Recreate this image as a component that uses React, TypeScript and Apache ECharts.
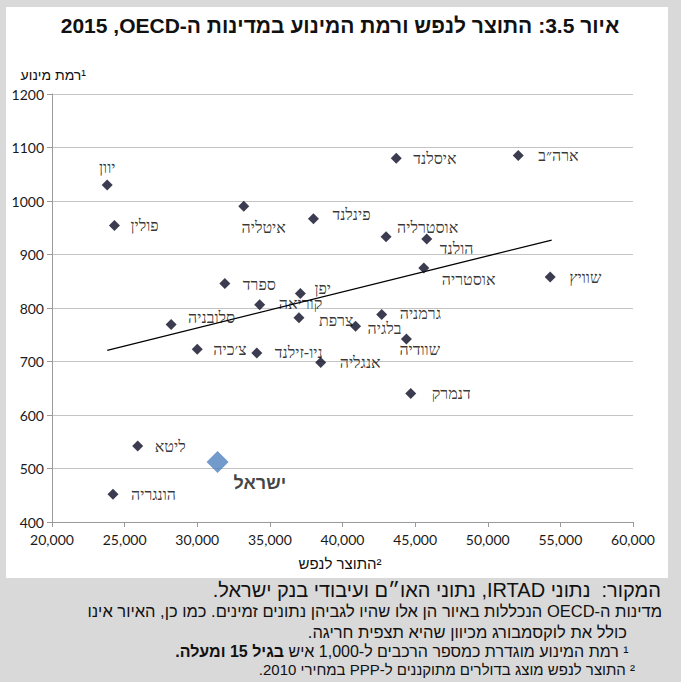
import React, { useEffect, useRef } from 'react';
import * as echarts from 'echarts';

// ---------- data ----------
const countries = [
  'יוון', 'פולין', 'איטליה', 'פינלנד', 'איסלנד', 'ארה״ב', 'אוסטרליה', 'הולנד',
  'אוסטריה', 'שוויץ', 'ספרד', 'יפן', 'קוריאה', 'צרפת', 'סלובניה', 'צ׳כיה',
  'ניו-זילנד', 'אנגליה', 'גרמניה', 'בלגיה', 'שוודיה', 'דנמרק', 'ליטא', 'הונגריה',
];
const gdpPerCapita = [
  23800, 24300, 33200, 38000, 43700, 52100, 43000, 45800,
  45600, 54300, 31900, 37100, 34300, 37000, 28200, 30000,
  34100, 38500, 42700, 40900, 44400, 44700, 25900, 24200,
];
const motorization = [
  1030, 954, 990, 967, 1080, 1085, 933, 929,
  875, 858, 846, 827, 806, 782, 769, 723,
  716, 698, 788, 766, 742, 640, 542, 452,
];
const israelName = 'ישראל';
const israelGdp = [31400];
const israelMotor = [512];
const trendGdp = [23800, 54400];
const trendMotor = [721, 927];
const xTickValues = [20000, 25000, 30000, 35000, 40000, 45000, 50000, 55000, 60000];
const yTickValues = [400, 500, 600, 700, 800, 900, 1000, 1100, 1200];

const RLE = '\u202B';
const PDF = '\u202C';
const LRM = '\u200E';
const RLM = '\u200F';
const rtl = (s: string) => RLE + s + PDF;

const titleText = 'איור 3.5: התוצר לנפש ורמת המינוע במדינות ה-OECD' + RLM + ', 2015';
const yTitle = 'רמת מינוע';
const xTitle = 'התוצר לנפש';
const noteSource = 'המקור:  נתוני IRTAD, נתוני האו״ם ועיבודי בנק ישראל.';
const noteLine2 = 'מדינות ה-OECD הנכללות באיור הן אלו שהיו לגביהן נתונים זמינים. כמו כן, האיור אינו';
const noteLine3 = 'כולל את לוקסמבורג מכיוון שהיא תצפית חריגה.';
const note1Normal = '¹ רמת המינוע מוגדרת כמספר הרכבים ל-1,000 איש ';
const note1Bold = ' בגיל 15 ומעלה.';
const note2 = '² התוצר לנפש מוצג בדולרים מתוקננים ל-PPP במחירי 2010.';

// ---------- label placement (style, px relative to marker) ----------
const labelPlace: Record<string, [number, number, string]> = {
  'יוון': [0, -17, 'center'],
  'פולין': [16, 0, 'left'],
  'איטליה': [20, 21, 'center'],
  'פינלנד': [19, -4, 'left'],
  'איסלנד': [17, 0, 'left'],
  'ארה״ב': [20, 0, 'left'],
  'אוסטרליה': [11, -9, 'left'],
  'הולנד': [13, 10, 'left'],
  'אוסטריה': [18, 12, 'left'],
  'שוויץ': [19, 1, 'left'],
  'ספרד': [18, 1, 'left'],
  'יפן': [14, -5, 'left'],
  'קוריאה': [19, -1, 'left'],
  'צרפת': [20, 3, 'left'],
  'סלובניה': [17, -7, 'left'],
  'צ׳כיה': [16, 0, 'left'],
  'ניו-זילנד': [18, 0, 'left'],
  'אנגליה': [19, 0, 'left'],
  'גרמניה': [18, -1, 'left'],
  'בלגיה': [12, 2, 'left'],
  'שוודיה': [-7, 10, 'left'],
  'דנמרק': [21, 0, 'left'],
  'ליטא': [17, 0, 'left'],
  'הונגריה': [18, 0, 'left'],
};

const MARK = 11;
const LABEL_FONT = 'Liberation Serif';
const SANS = 'Liberation Sans';

export default function App() {
  const ref = useRef<HTMLDivElement>(null);

  useEffect(() => {
    if (!ref.current) return;
    const chart = echarts.init(ref.current, undefined, { renderer: 'svg' });

    const countryData = countries.map((name, i) => {
      const p = labelPlace[name] || [12, 0, 'left'];
      return {
        name,
        value: [gdpPerCapita[i], motorization[i]],
        label: {
          position: [MARK / 2 + p[0], MARK / 2 + p[1]],
          align: p[2],
          verticalAlign: 'middle',
        },
      };
    });

    const textEl = (
      text: string,
      x: number,
      y: number,
      opts: { size: number; weight?: string; align?: string; family?: string; fill?: string }
    ) => ({
      type: 'text',
      x,
      y,
      z: 10,
      style: {
        text,
        fill: opts.fill || '#111',
        fontSize: opts.size,
        fontFamily: opts.family || SANS,
        fontWeight: opts.weight || 'normal',
        align: opts.align || 'right',
        textAlign: opts.align || 'right',
        verticalAlign: 'middle',
        textVerticalAlign: 'middle',
      },
    });

    const option: any = {
      animation: false,
      backgroundColor: '#ffffff',
      grid: { left: 52, right: 48, top: 94, bottom: 160, containLabel: false },
      xAxis: {
        type: 'value',
        min: xTickValues[0],
        max: xTickValues[xTickValues.length - 1],
        interval: 5000,
        axisLine: { show: true, lineStyle: { color: '#9a9a9a', width: 1 } },
        axisTick: { show: true, length: 5, lineStyle: { color: '#9a9a9a' } },
        axisLabel: {
          formatter: (v: number) => v.toLocaleString('en-US'),
          fontFamily: 'Lato',
          fontSize: 14,
          color: '#1a1a1a',
          margin: 10,
        },
        splitLine: { show: false },
      },
      yAxis: {
        type: 'value',
        min: yTickValues[0],
        max: yTickValues[yTickValues.length - 1],
        interval: 100,
        axisLine: { show: true, lineStyle: { color: '#9a9a9a', width: 1 } },
        axisTick: { show: true, length: 5, lineStyle: { color: '#9a9a9a' } },
        axisLabel: {
          formatter: (v: number) => String(v),
          fontFamily: 'Lato',
          fontSize: 14,
          color: '#1a1a1a',
          margin: 8,
        },
        splitLine: { show: true, lineStyle: { color: '#c4c4c4', width: 1 } },
      },
      graphic: [
        // grey surround
        { type: 'rect', shape: { x: 0, y: 0, width: 681, height: 7 }, style: { fill: '#d9d9d9' }, z: 5 },
        { type: 'rect', shape: { x: 0, y: 0, width: 6, height: 682 }, style: { fill: '#d9d9d9' }, z: 5 },
        { type: 'rect', shape: { x: 668, y: 0, width: 13, height: 682 }, style: { fill: '#d9d9d9' }, z: 5 },
        { type: 'rect', shape: { x: 0, y: 578, width: 681, height: 104 }, style: { fill: '#d9d9d9' }, z: 5 },
        textEl(rtl(titleText), 340, 25, { size: 21, weight: 'bold', align: 'center' }),
        textEl(yTitle + LRM + '¹', 86, 75, { size: 14, align: 'right' }),
        textEl(xTitle + LRM + '²', 340, 563, { size: 15, align: 'center' }),
        textEl(rtl(noteSource), 661, 590, { size: 20, align: 'right' }),
        textEl(rtl(noteLine2), 662, 611, { size: 16.5, align: 'right' }),
        textEl(rtl(noteLine3), 627, 632, { size: 16.5, align: 'right' }),
        {
          type: 'text',
          x: 633,
          y: 651,
          z: 10,
          style: {
            text: '{b|' + rtl(note1Bold) + '}{n|' + rtl(note1Normal) + '}',
            align: 'right',
            textAlign: 'right',
            verticalAlign: 'middle',
            textVerticalAlign: 'middle',
            rich: {
              b: { fontSize: 16, fontFamily: SANS, fontWeight: 'bold', fill: '#111', color: '#111' },
              n: { fontSize: 16, fontFamily: SANS, fill: '#111', color: '#111' },
            },
          },
        },
        textEl(rtl(note2), 635, 669, { size: 15, align: 'right' }),
      ],
      series: [
        {
          type: 'line',
          data: trendGdp.map((g, i) => [g, trendMotor[i]]),
          showSymbol: false,
          symbol: 'none',
          lineStyle: { color: '#000', width: 1.3 },
          silent: true,
          z: 1,
        },
        {
          type: 'scatter',
          data: countryData,
          symbol: 'diamond',
          symbolSize: MARK,
          itemStyle: { color: '#0b0b25' },
          label: {
            show: true,
            formatter: '{b}',
            fontFamily: LABEL_FONT,
            fontSize: 16,
            color: '#000',
          },
          z: 3,
        },
        {
          type: 'scatter',
          data: israelGdp.map((g, i) => ({
            name: israelName,
            value: [g, israelMotor[i]],
          })),
          symbol: 'diamond',
          symbolSize: 22,
          itemStyle: { color: '#4f81bd' },
          label: {
            show: true,
            formatter: '{b}',
            position: [11 + 16, 11 + 21],
            align: 'left',
            verticalAlign: 'middle',
            fontFamily: SANS,
            fontWeight: 'bold',
            fontSize: 18,
            color: '#111',
          },
          z: 4,
        },
      ],
    };

    chart.setOption(option);
    return () => chart.dispose();
  }, []);

  return (
    <div
      ref={ref}
      style={{ position: 'absolute', left: 0, top: 0, width: 681, height: 682 }}
    />
  );
}
